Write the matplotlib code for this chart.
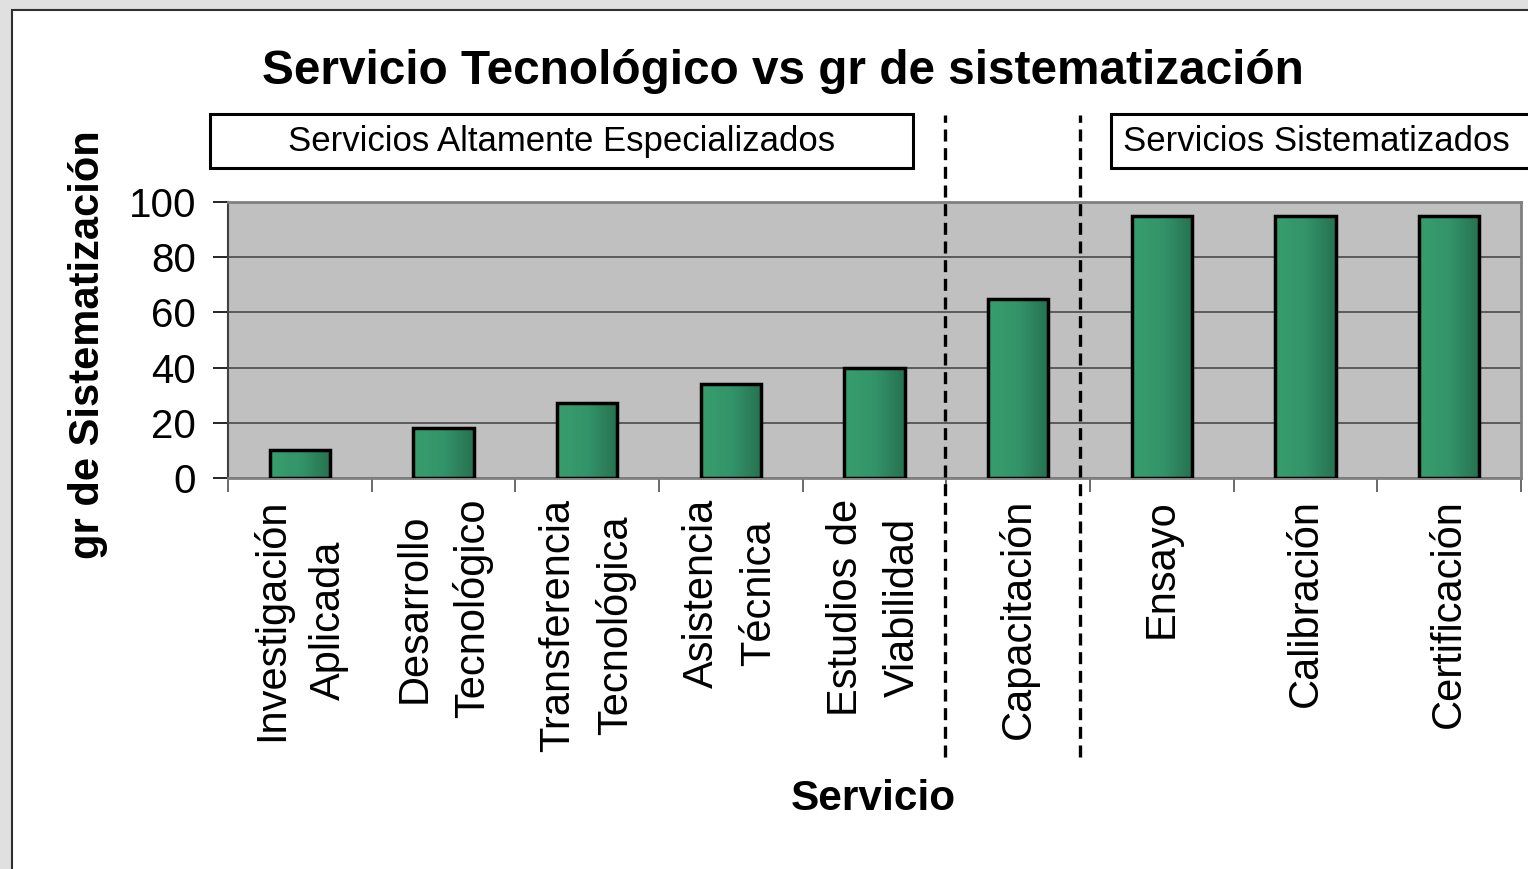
import numpy as np
import matplotlib
matplotlib.use("Agg")
import matplotlib.pyplot as plt
from matplotlib.patches import Rectangle
from matplotlib.colors import LinearSegmentedColormap

plt.rcParams['font.family'] = ['Liberation Sans', 'DejaVu Sans']

categories = ["Investigación\nAplicada", "Desarrollo\nTecnológico", "Transferencia\nTecnológica",
              "Asistencia\nTécnica", "Estudios de\nViabilidad", "Capacitación",
              "Ensayo", "Calibración", "Certificación"]
values = [10, 18, 27, 34, 40, 65, 95, 95, 95]
yticks = [0, 20, 40, 60, 80, 100]
title = "Servicio Tecnológico vs gr de sistematización"
xlabel = "Servicio"
ylabel = "gr de Sistematización"
group_labels = ["Servicios Altamente Especializados", "Servicios Sistematizados"]
divider_x = [4.49, 5.43]

W, H = 1528, 869
fig = plt.figure(figsize=(W / 100, H / 100), dpi=100)
fig.patch.set_facecolor('#e0e0e0')
fig.add_artist(Rectangle((12 / W, -0.05), 1.0, 1 - 10 / H + 0.05, transform=fig.transFigure,
                         facecolor='white', edgecolor='#303030', linewidth=1.5, zorder=0))

ax = fig.add_axes([228 / W, 391 / H, 1293 / W, 276 / H])
ax.set_facecolor('#c0c0c0')

x = np.arange(len(values))
bw = 0.42
cmap = LinearSegmentedColormap.from_list('g', ['#389e6d', '#33946a', '#267250'])
grad = np.linspace(0, 1, 64).reshape(1, -1)
for xi, v in zip(x, values):
    ax.imshow(grad, cmap=cmap, extent=[xi - bw / 2, xi + bw / 2, 0, v], aspect='auto', zorder=2,
              interpolation='bilinear')
ax.bar(x, values, width=bw, facecolor='none', edgecolor='black', linewidth=2.5, zorder=3)

ax.set_xlim(-0.5, len(values) - 0.5)
ax.set_ylim(0, 100)
ax.set_aspect('auto')
ax.set_yticks(yticks)
ax.yaxis.grid(True, color='#404040', linewidth=1.1)
ax.set_axisbelow(True)
ax.tick_params(axis='y', labelsize=29, length=11, width=1.2, pad=12, color='black')
ax.set_xticks(x)
ax.set_xticklabels(categories, rotation=90, ha='center', va='top', multialignment='center',
                   fontsize=30, linespacing=1.55)
ax.tick_params(axis='x', which='major', length=0, pad=15)
ax.set_xticks(np.arange(-0.5, len(values)), minor=True)
ax.tick_params(axis='x', which='minor', length=10, width=1.2, color='#505050')
for s in ['top', 'right', 'bottom']:
    ax.spines[s].set_color('#808080')
    ax.spines[s].set_linewidth(2)
ax.spines['left'].set_color('#404040')
ax.spines['left'].set_linewidth(1.5)

for dx in divider_x:
    ax.axvline(dx, ymin=-1.011, ymax=1.315, clip_on=False, color='black', linewidth=2.4,
               linestyle=(0, (3.6, 2.0)), zorder=5)

# group boxes
ax.add_patch(Rectangle((-0.0139, 1.123), 0.5437, 0.196, transform=ax.transAxes, clip_on=False,
                       facecolor='white', edgecolor='black', linewidth=2.2))
ax.text(0.258, 1.221, group_labels[0], transform=ax.transAxes, ha='center', va='center', fontsize=25)
ax.add_patch(Rectangle((0.683, 1.123), 0.4, 0.196, transform=ax.transAxes, clip_on=False,
                       facecolor='white', edgecolor='black', linewidth=2.2))
ax.text(0.6925, 1.221, group_labels[1], transform=ax.transAxes, ha='left', va='center', fontsize=25)

ax.set_ylabel(ylabel, fontsize=30, fontweight='bold')
ax.yaxis.set_label_coords(-0.093, 0.482)
ax.set_xlabel(xlabel, fontsize=30.5, fontweight='bold')
ax.xaxis.set_label_coords(0.499, -1.09)

fig.text(783 / W, 1 - 71 / H, title, ha='center', va='center', fontsize=34.4, fontweight='bold')

fig.savefig('out.png', dpi=100, facecolor=fig.get_facecolor())
